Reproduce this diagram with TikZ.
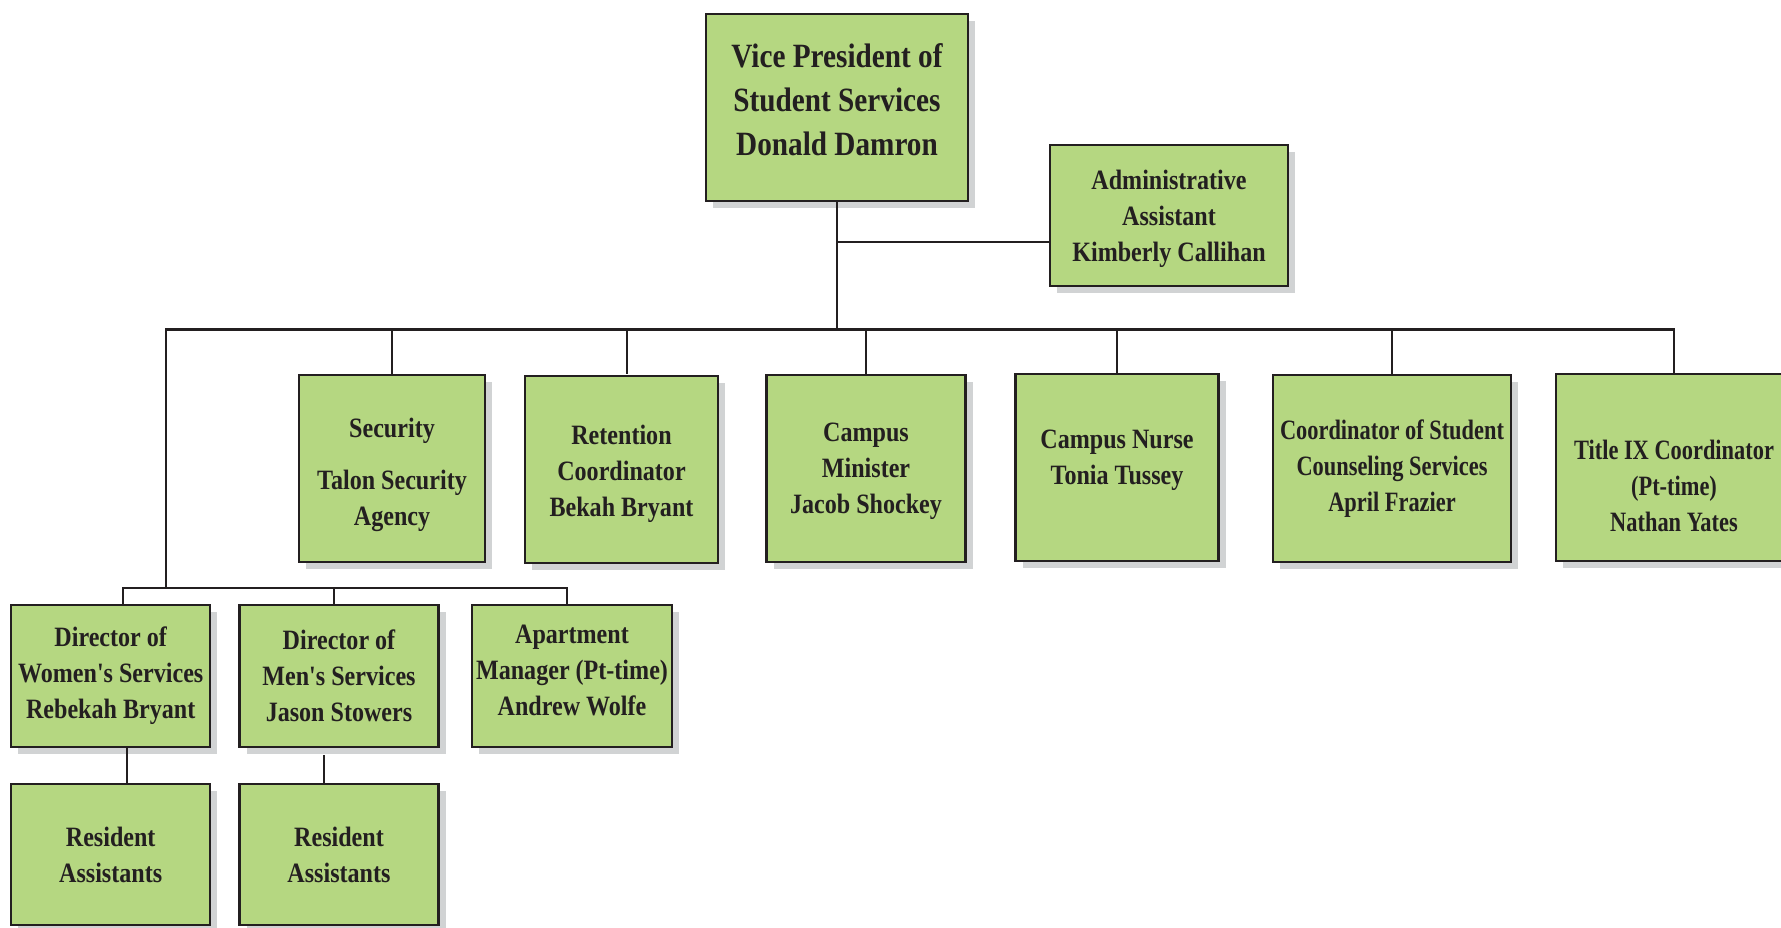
\documentclass[tikz,border=0pt]{standalone}
\usepackage{fontspec}
\newfontfamily\orgfont{Liberation Serif}[FakeStretch=0.86]
\newfontfamily\orgnarrow{Liberation Serif}[FakeStretch=0.8]
\usetikzlibrary{shadows}
\definecolor{boxgreen}{RGB}{181,215,129}
\definecolor{boxline}{RGB}{35,31,32}
\definecolor{shadowgrey}{RGB}{209,211,212}
\tikzset{orgbox/.style={draw=boxline, line width=1.15pt, fill=boxgreen, text=boxline,
  align=center, inner sep=2pt, minimum width=#1, minimum height=93.5pt,
  font=\orgfont\bfseries\fontsize{14}{18}\selectfont,
  drop shadow={shadow xshift=3.5pt, shadow yshift=-3.5pt, fill=shadowgrey, opacity=1}},
%default width is the one of the lower rows
orgbox/.default={99.5pt},
narrow/.style={font=\orgnarrow\bfseries\fontsize{14}{18}\selectfont},
link/.style={draw=boxline, line width=1.1pt}}

\begin{document}
\begin{tikzpicture}[x=0.5pt, y=-0.5pt]
    \useasboundingbox (0,0) rectangle (1781,927);
    \node[orgbox=131pt, font=\orgfont\bfseries\fontsize{17}{22}\selectfont] (vp) at (837,107.5)
        {Vice President of\\Student Services\\Donald Damron\\[-14pt]\mbox{}};
    \node[orgbox=119pt, minimum height=70.5pt] (admin) at (1169,215.5)
        {\rule{0pt}{13pt}Administrative\\Assistant\\Kimberly Callihan};

    \node[orgbox=93pt] (security) at (392,468.5) {\rule{0pt}{16.5pt}Security\\[8pt]Talon Security\\Agency};
    \node[orgbox=96.5pt] (retention) at (621.5,469.5) {\rule{0pt}{14pt}Retention\\Coordinator\\Bekah Bryant};
    \node[orgbox=99.5pt] (minister) at (866,468.5) {\rule{0pt}{12.5pt}Campus\\Minister\\Jacob Shockey};
    \node[orgbox=101.5pt] (nurse) at (1117,467.5) {\rule{0pt}{12.5pt}Campus Nurse\\Tonia Tussey\\[-4pt]\mbox{}};
    \node[orgbox=119pt, narrow] (coord) at (1392,468.5) {Coordinator of Student\\Counseling Services\\April Frazier};
    \node[orgbox=118pt, narrow] (titleix) at (1674,467.5) {\mbox{}\\[10pt]Title IX Coordinator\\(Pt-time)\\Nathan Yates};

    \node[orgbox, minimum height=71pt] (women) at (110.7,676) {Director of\\Women's Services\\Rebekah Bryant};
    \node[orgbox, minimum height=71pt] (men) at (339,676) {Director of\\Men's Services\\Jason Stowers};
    \node[orgbox, minimum height=71pt] (apartment) at (572,676) {Apartment\\Manager (Pt-time)\\Andrew Wolfe\rule[-6pt]{0pt}{6pt}};

    \node[orgbox, minimum height=70.5pt] (resw) at (110.7,854.5) {Resident\\Assistants};
    \node[orgbox, minimum height=70.5pt] (resm) at (339,854.5) {Resident\\Assistants};

    \coordinate (busleft) at (166,329.4);
    \coordinate (subbus) at (166,588);
    \coordinate (adminjoin) at ([yshift=-13.25pt]admin.west);
    \coordinate (rdrop) at ([xshift=2.75pt]retention.north);
    \coordinate (wdrop) at ([xshift=6pt]women.north);
    \coordinate (mdrop) at ([xshift=-2.5pt]men.north);
    \coordinate (adrop) at ([xshift=-2.5pt]apartment.north);

    \draw[link] (vp.south) -- (vp.south |- busleft);
    \draw[link] (vp.south |- adminjoin) -- (adminjoin);
    \draw[link] (subbus) -- (busleft) -- (titleix.north |- busleft) -- (titleix.north);
    \foreach \n in {security,rdrop,minister,nurse,coord}
        \draw[link] (\n |- busleft) -- (\n |- security.north);
    \draw[link] (wdrop) -- (wdrop |- subbus) -- (adrop |- subbus) -- (adrop);
    \draw[link] (mdrop |- subbus) -- (mdrop);
    \draw[link] ([xshift=8pt]women.south) -- ([xshift=8pt]resw.north);
    \draw[link] ([xshift=-7.5pt, yshift=-3.5pt]men.south) -- ([xshift=-7.5pt]resm.north);
\end{tikzpicture}
\end{document}
